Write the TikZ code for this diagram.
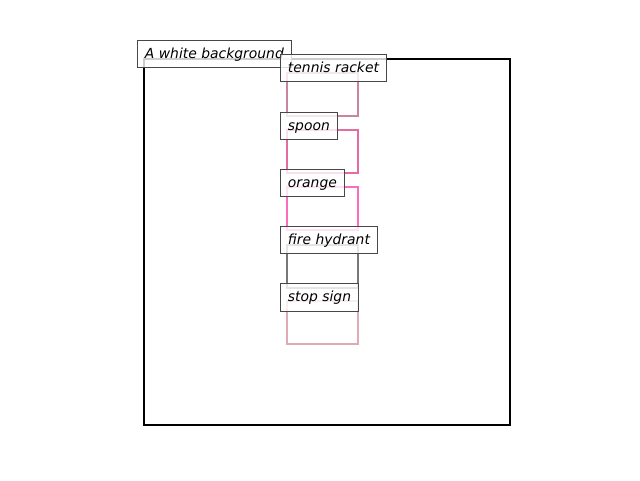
\documentclass[tikz,border=0pt]{standalone}
\usepackage{fontspec}
\setmainfont{DejaVu Sans}
\definecolor{cracket}{RGB}{200,132,160}
\definecolor{cspoon}{RGB}{228,108,162}
\definecolor{corange}{RGB}{252,108,190}
\definecolor{chydrant}{RGB}{120,120,120}
\definecolor{cstop}{RGB}{224,170,180}
\tikzset{
  objbox/.style={line width=2.2pt},
  tag/.style={draw=black!72, line width=1.1pt, fill=white, fill opacity=0.8, text opacity=1,
    anchor=west, inner xsep=7.4pt, inner ysep=0pt, minimum height=27.5pt,
    text height=10.5pt, text depth=2pt,
    font=\fontsize{13.9}{16}\selectfont\itshape},
}
\begin{document}
\begin{tikzpicture}[x=1pt,y=-1pt]
\useasboundingbox (0,0) rectangle (640,480);
% background frame
\draw[line width=2pt, black] (144,59) rectangle (510,425);
% object boxes
\draw[objbox, cracket]  (287,73)  rectangle (358,116);
\draw[objbox, cspoon]   (287,130) rectangle (358,173);
\draw[objbox, corange]  (287,187) rectangle (358,230);
\draw[objbox, chydrant] (287,245) rectangle (358,288);
\draw[objbox, cstop]    (287,301) rectangle (358,344);
% labels
\node[tag] (bg)      at (137,54)  {A white background};
\node[tag] (racket)  at (280,68)  {tennis racket};
\node[tag] (spoon)   at (280,126) {spoon};
\node[tag] (orange)  at (280,183) {orange};
\node[tag] (hydrant) at (280,240) {fire hydrant};
\node[tag] (stop)    at (280,297.5) {stop sign};
\end{tikzpicture}
\end{document}
